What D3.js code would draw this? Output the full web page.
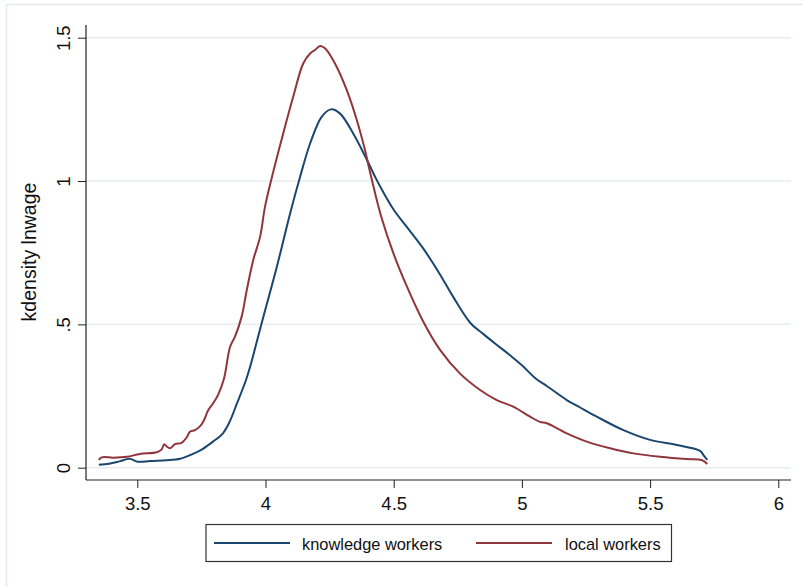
<!DOCTYPE html>
<html>
<head>
<meta charset="utf-8">
<script src="https://cdn.jsdelivr.net/npm/d3@7"></script>
<style>
  html, body { margin: 0; padding: 0; background: #fff; }
  svg { display: block; font-family: "Liberation Sans", Arial, sans-serif; }
</style>
</head>
<body>
<svg id="chart" width="803" height="587"></svg>
<script>
// Kernel density of log wage, by worker type
const knowledgeX = [3.35, 3.39, 3.43, 3.47, 3.50, 3.55, 3.61, 3.667, 3.717, 3.756, 3.795, 3.834, 3.86, 3.889, 3.924, 3.94, 3.985, 4.044, 4.096, 4.135, 4.174, 4.219, 4.255, 4.29, 4.342, 4.395, 4.43, 4.46, 4.50, 4.551, 4.615, 4.68, 4.732, 4.80, 4.85, 4.90, 4.95, 5.0, 5.055, 5.097, 5.175, 5.227, 5.292, 5.396, 5.5, 5.604, 5.695, 5.708, 5.723];
const knowledgeY = [0.010, 0.014, 0.022, 0.031, 0.021, 0.023, 0.026, 0.031, 0.048, 0.066, 0.091, 0.12, 0.16, 0.225, 0.306, 0.352, 0.504, 0.70, 0.887, 1.015, 1.131, 1.224, 1.25, 1.236, 1.166, 1.075, 1.01, 0.96, 0.90, 0.84, 0.765, 0.675, 0.596, 0.504, 0.466, 0.43, 0.395, 0.357, 0.31, 0.285, 0.236, 0.21, 0.178, 0.131, 0.097, 0.079, 0.059, 0.044, 0.027];

const localX = [3.35, 3.361, 3.406, 3.459, 3.51, 3.576, 3.595, 3.605, 3.615, 3.628, 3.647, 3.673, 3.693, 3.706, 3.725, 3.745, 3.757, 3.777, 3.796, 3.816, 3.838, 3.862, 3.881, 3.907, 3.927, 3.952, 3.979, 3.998, 4.024, 4.069, 4.108, 4.147, 4.174, 4.193, 4.213, 4.232, 4.271, 4.317, 4.356, 4.388, 4.408, 4.45, 4.50, 4.55, 4.615, 4.68, 4.758, 4.837, 4.902, 4.966, 5.032, 5.07, 5.097, 5.175, 5.253, 5.344, 5.435, 5.539, 5.643, 5.701, 5.723];
const localY = [0.027, 0.036, 0.035, 0.038, 0.048, 0.054, 0.064, 0.082, 0.074, 0.068, 0.082, 0.087, 0.106, 0.126, 0.131, 0.145, 0.16, 0.201, 0.225, 0.256, 0.31, 0.422, 0.457, 0.527, 0.62, 0.724, 0.806, 0.91, 1.01, 1.166, 1.294, 1.41, 1.445, 1.457, 1.471, 1.463, 1.41, 1.317, 1.213, 1.108, 1.03, 0.88, 0.745, 0.635, 0.51, 0.412, 0.329, 0.271, 0.236, 0.213, 0.178, 0.16, 0.155, 0.12, 0.091, 0.068, 0.05, 0.038, 0.03, 0.027, 0.013];

const xTicks = [3.5, 4, 4.5, 5, 5.5, 6];
const xTickLabels = ["3.5", "4", "4.5", "5", "5.5", "6"];
const yTicks = [0, 0.5, 1, 1.5];
const yTickLabels = ["0", ".5", "1", "1.5"];

const seriesNames = ["knowledge workers", "local workers"];
const seriesColors = ["#1a476f", "#90353b"];
const yTitle = "kdensity lnwage";

const svg = d3.select("#chart");

// plot region
const plot = { left: 86, right: 791, top: 25, bottom: 480 };

const x = d3.scaleLinear().domain([3.5, 6]).range([137.3, 778.3]);
const y = d3.scaleLinear().domain([0, 1.5]).range([467.7, 37.7]);

// outer graph border
svg.append("rect")
  .attr("x", 6.5).attr("y", 4.5)
  .attr("width", 820).attr("height", 620)
  .attr("fill", "none")
  .attr("stroke", "#e2eaee")
  .attr("stroke-width", 1.5);

// horizontal gridlines
svg.append("g").selectAll("line")
  .data(yTicks)
  .join("line")
  .attr("x1", plot.left).attr("x2", plot.right)
  .attr("y1", d => y(d)).attr("y2", d => y(d))
  .attr("stroke", "#e6eef1")
  .attr("stroke-width", 1.5);

// y axis
const yAxis = d3.axisLeft(y)
  .tickValues(yTicks)
  .tickFormat((d, i) => yTickLabels[i])
  .tickSize(8)
  .tickPadding(8);
const gy = svg.append("g").attr("transform", `translate(${plot.left},0)`).call(yAxis);
gy.select(".domain").remove();
gy.selectAll(".tick line").attr("stroke", "#222");
gy.selectAll(".tick text")
  .attr("font-size", 18.5)
  .attr("fill", "#111")
  .attr("text-anchor", "middle")
  .attr("x", 0).attr("dy", 0)
  .attr("transform", "translate(-16,0) rotate(-90)");
svg.append("line")
  .attr("x1", plot.left).attr("x2", plot.left)
  .attr("y1", plot.top).attr("y2", plot.bottom)
  .attr("stroke", "#222").attr("stroke-width", 1.2);

// x axis
const xAxis = d3.axisBottom(x)
  .tickValues(xTicks)
  .tickFormat((d, i) => xTickLabels[i])
  .tickSize(8)
  .tickPadding(9);
const gx = svg.append("g").attr("transform", `translate(0,${plot.bottom})`).call(xAxis);
gx.select(".domain").remove();
gx.selectAll(".tick line").attr("stroke", "#222");
gx.selectAll(".tick text").attr("font-size", 18.5).attr("fill", "#111");
svg.append("line")
  .attr("x1", plot.left).attr("x2", plot.right)
  .attr("y1", plot.bottom).attr("y2", plot.bottom)
  .attr("stroke", "#222").attr("stroke-width", 1.2);

// y axis title
svg.append("text")
  .attr("transform", "translate(36,252) rotate(-90)")
  .attr("text-anchor", "middle")
  .attr("font-size", 19.5)
  .attr("fill", "#111")
  .text(yTitle);

// density curves
const line = d3.line()
  .x(d => x(d[0]))
  .y(d => y(d[1]))
  .curve(d3.curveCatmullRom.alpha(0.5));

const series = [
  d3.zip(knowledgeX, knowledgeY),
  d3.zip(localX, localY)
];

svg.append("g").selectAll("path")
  .data(series)
  .join("path")
  .attr("d", line)
  .attr("fill", "none")
  .attr("stroke", (d, i) => seriesColors[i])
  .attr("stroke-width", 2)
  .attr("stroke-linejoin", "round");

// legend
const legend = svg.append("g");
legend.append("rect")
  .attr("x", 206).attr("y", 524.5)
  .attr("width", 465.5).attr("height", 37)
  .attr("fill", "#fff")
  .attr("stroke", "#333")
  .attr("stroke-width", 1.2);
const legendItems = [
  { x1: 214, x2: 290, tx: 302 },
  { x1: 476, x2: 552, tx: 565 }
];
legendItems.forEach((it, i) => {
  legend.append("line")
    .attr("x1", it.x1).attr("x2", it.x2)
    .attr("y1", 543).attr("y2", 543)
    .attr("stroke", seriesColors[i])
    .attr("stroke-width", 2);
  legend.append("text")
    .attr("x", it.tx).attr("y", 549.5)
    .attr("font-size", 16.4)
    .attr("fill", "#111")
    .text(seriesNames[i]);
});
</script>
</body>
</html>
